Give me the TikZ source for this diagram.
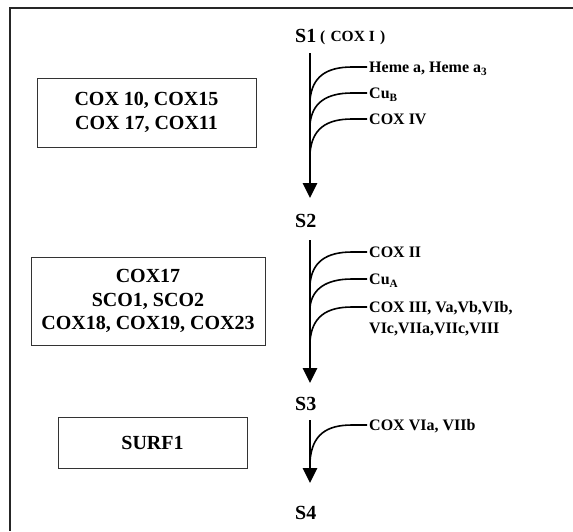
\documentclass[tikz,border=0pt]{standalone}
\usepackage{fontspec}
\setmainfont{Liberation Serif}
\usetikzlibrary{arrows.meta}
\begin{document}
\begin{tikzpicture}[x=1pt,y=-1pt,
  frameline/.style={line width=1.8pt,black!85},
  mainarrow/.style={line width=2.6pt,-{Triangle[width=14pt,length=15pt]}},
  branch/.style={line width=1.6pt},
  boxnode/.style={draw=black!80,line width=1pt,inner sep=0pt,align=center,
    font=\fontsize{20}{23.5}\selectfont\bfseries},
  slabel/.style={anchor=base west,inner sep=0pt,font=\fontsize{20}{20}\selectfont\bfseries},
  blabel/.style={anchor=base west,inner sep=0pt,font=\fontsize{16}{16}\selectfont\bfseries}
]
\useasboundingbox (0,0) rectangle (573,531);
% frame
\coordinate (ftr) at (573,8);
\coordinate (ftl) at (10,8);
\coordinate (fbl) at (10,531);
\draw[frameline] (ftr) -- (ftl) -- (fbl);

% left boxes
\node[boxnode,minimum width=219pt,minimum height=69pt] (box1) at (146.5,112.5) {COX 10, COX15\\COX 17, COX11};
\node[boxnode,minimum width=234pt,minimum height=88pt] (box2) at (148,301) {COX17\\SCO1, SCO2\\COX18, COX19, COX23};
\node[boxnode,minimum width=189pt,minimum height=51pt] (box3) at (152.5,442.5) {SURF1};

% stage labels
\node[slabel] (s1) at (295,42) {S1};
\node[anchor=base west,inner sep=0pt,font=\fontsize{15.5}{15.5}\selectfont\bfseries] (cox1) at (320,41) {(\,\,COX I\,\,)};
\node[slabel] (s2) at (295,227) {S2};
\node[slabel] (s3) at (295,410) {S3};
\node[slabel] (s4) at (295,519) {S4};

% main arrows
\coordinate (a1s) at (310,53);  \coordinate (a1e) at (310,198);
\coordinate (a2s) at (310,240); \coordinate (a2e) at (310,383);
\coordinate (a3s) at (310,420); \coordinate (a3e) at (310,483);
\draw[mainarrow] (a1s) -- (a1e);
\draw[mainarrow] (a2s) -- (a2e);
\draw[mainarrow] (a3s) -- (a3e);

% branch labels
\node[blabel] (l1) at (369,72.5) {Heme a, Heme a\textsubscript{3}};
\node[blabel] (l2) at (369,98.5) {Cu\textsubscript{B}};
\node[blabel] (l3) at (369,124.5) {COX IV};
\node[blabel] (l4) at (369,257.5) {COX II};
\node[blabel] (l5) at (369,284.5) {Cu\textsubscript{A}};
\node[blabel] (l6) at (369,312.5) {COX III, Va,Vb,VIb,};
\node[blabel] (l6b) at (369,333) {VIc,VIIa,VIIc,VIII};
\node[blabel] (l7) at (369,430.5) {COX VIa, VIIb};

% branch curves
\foreach \ys/\yh/\nm in {100/67/b1, 124/93/b2, 153/119/b3, 284/252/b4, 307/279/b5, 341/307/b6, 461/425/b7}{
  \coordinate (\nm s) at (310,\ys);
  \coordinate (\nm e) at (367,\yh);
  \draw[branch] (\nm s) .. controls (312,\yh+10) and (326,\yh) .. (352,\yh) -- (\nm e);
}
\end{tikzpicture}
\end{document}
